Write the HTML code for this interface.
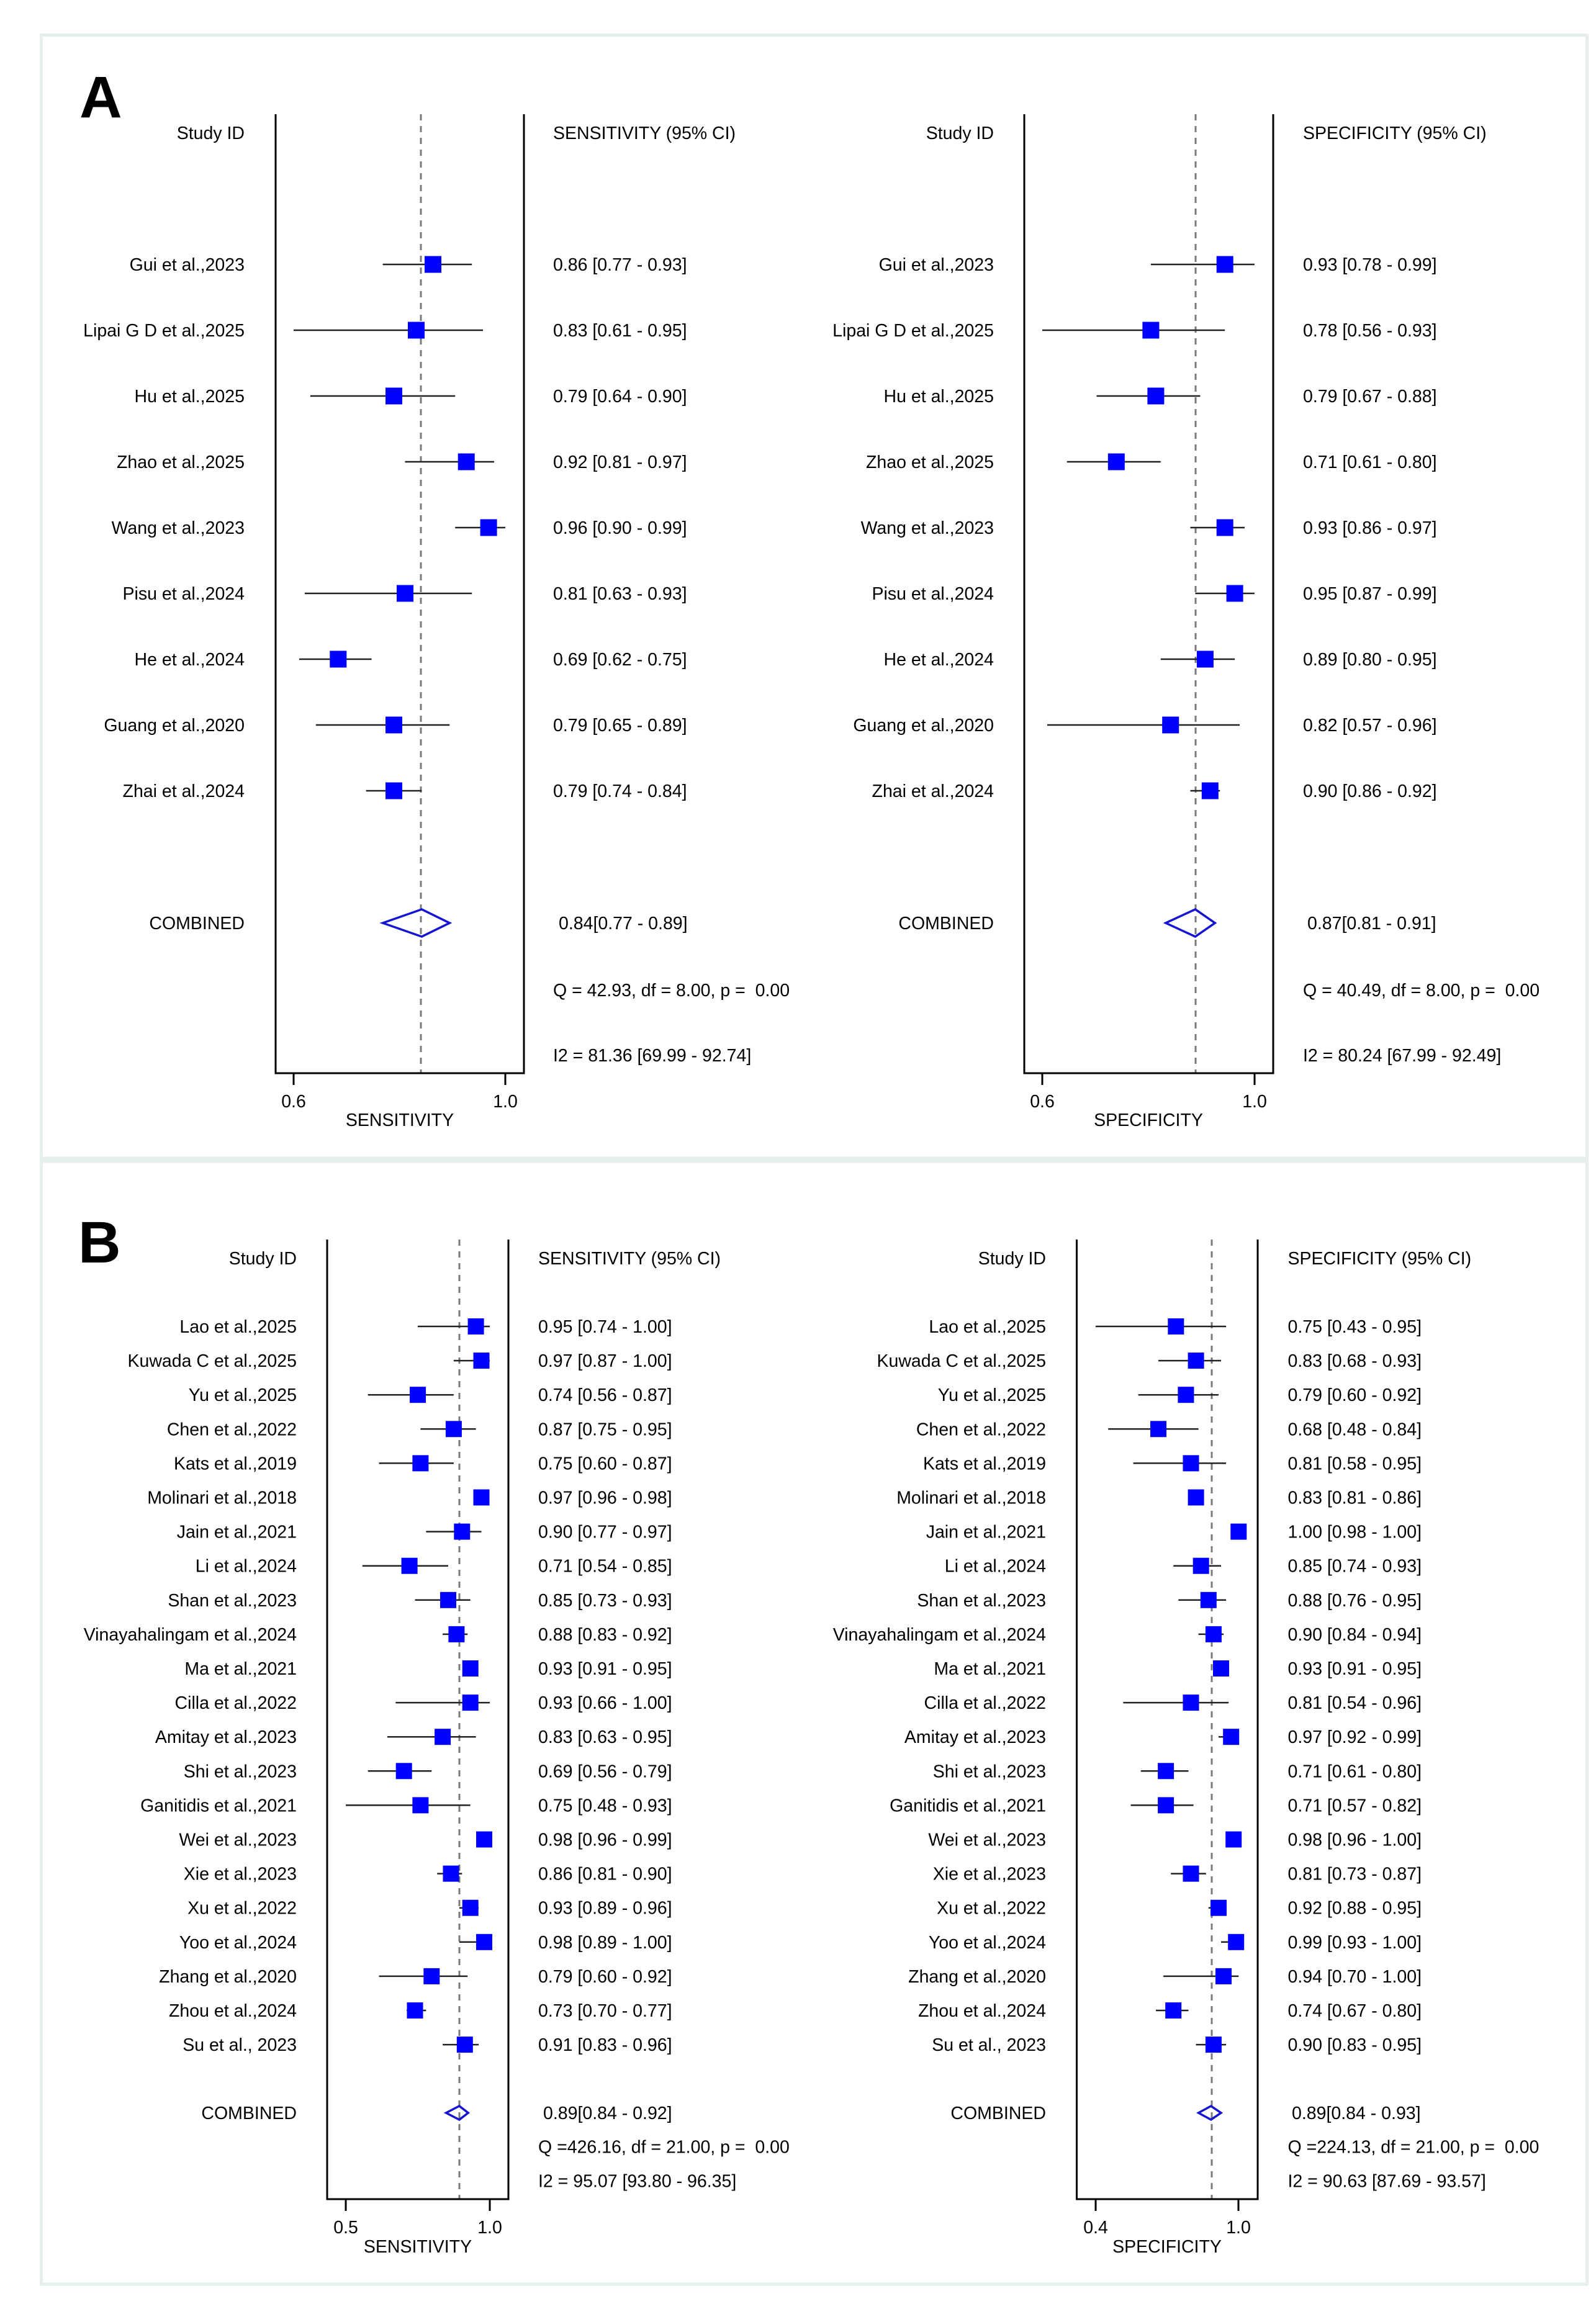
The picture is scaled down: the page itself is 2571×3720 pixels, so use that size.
<!DOCTYPE html>
<html><head><meta charset="utf-8"><style>
html,body{margin:0;padding:0;background:#fff;}
svg{display:block;}
text{font-family:"Liberation Sans",Arial,sans-serif;font-size:28.5px;fill:#000;white-space:pre;}
.lb{font-weight:bold;font-size:95px;fill:#000;}
</style></head><body>
<svg width="2571" height="3720" viewBox="0 0 2571 3720" xmlns="http://www.w3.org/2000/svg">
<rect x="0" y="0" width="2571" height="3720" fill="#fff"/>
<!-- panel borders -->
<rect x="66.5" y="56.5" width="2490" height="1809.5" fill="none" stroke="#e7eeee" stroke-width="5"/>
<rect x="66.5" y="1871" width="2490" height="1809" fill="none" stroke="#e7eeee" stroke-width="5"/>

<text class="lb" x="128" y="189">A</text>
<text class="lb" x="126" y="2034">B</text>

<!-- ================= PANEL A SENSITIVITY ================= -->
<g>
<line x1="678" y1="184" x2="678" y2="1729" stroke="#7a7a7a" stroke-width="3" stroke-dasharray="10 9"/>
<path d="M444 184 V1729 H844 V184" fill="none" stroke="#000" stroke-width="3"/>
<line x1="473" y1="1729" x2="473" y2="1748" stroke="#000" stroke-width="3"/>
<line x1="814" y1="1729" x2="814" y2="1748" stroke="#000" stroke-width="3"/>
<text x="473" y="1784" text-anchor="middle">0.6</text>
<text x="814" y="1784" text-anchor="middle">1.0</text>
<text x="644" y="1814" text-anchor="middle">SENSITIVITY</text>
<text x="394" y="224" text-anchor="end">Study ID</text>
<text x="891" y="224">SENSITIVITY (95% CI)</text>
<g stroke="#222" stroke-width="2.5">
<line x1="616.6" y1="426" x2="760.2" y2="426"/>
<line x1="473" y1="532" x2="778.1" y2="532"/>
<line x1="499.9" y1="638" x2="733.2" y2="638"/>
<line x1="652.5" y1="744" x2="796.1" y2="744"/>
<line x1="733.2" y1="850" x2="814" y2="850"/>
<line x1="490.9" y1="956" x2="760.2" y2="956"/>
<line x1="482" y1="1062" x2="598.6" y2="1062"/>
<line x1="508.9" y1="1168" x2="724.3" y2="1168"/>
<line x1="589.7" y1="1274" x2="679.4" y2="1274"/>
</g>
<g fill="#0000ff">
<rect x="684" y="412.5" width="27" height="27"/>
<rect x="657" y="518.5" width="27" height="27"/>
<rect x="621" y="624.5" width="27" height="27"/>
<rect x="737.7" y="730.5" width="27" height="27"/>
<rect x="773.6" y="836.5" width="27" height="27"/>
<rect x="639" y="942.5" width="27" height="27"/>
<rect x="531.3" y="1048.5" width="27" height="27"/>
<rect x="621" y="1154.5" width="27" height="27"/>
<rect x="621" y="1260.5" width="27" height="27"/>
</g>
<polygon points="616.6,1487 679.4,1465 724.3,1487 679.4,1509" fill="none" stroke="#1414d2" stroke-width="3.5"/>
<g text-anchor="end">
<text x="394" y="436">Gui et al.,2023</text>
<text x="394" y="542">Lipai G D et al.,2025</text>
<text x="394" y="648">Hu et al.,2025</text>
<text x="394" y="754">Zhao et al.,2025</text>
<text x="394" y="860">Wang et al.,2023</text>
<text x="394" y="966">Pisu et al.,2024</text>
<text x="394" y="1072">He et al.,2024</text>
<text x="394" y="1178">Guang et al.,2020</text>
<text x="394" y="1284">Zhai et al.,2024</text>
<text x="394" y="1497">COMBINED</text>
</g>
<text x="891" y="436">0.86 [0.77 - 0.93]</text>
<text x="891" y="542">0.83 [0.61 - 0.95]</text>
<text x="891" y="648">0.79 [0.64 - 0.90]</text>
<text x="891" y="754">0.92 [0.81 - 0.97]</text>
<text x="891" y="860">0.96 [0.90 - 0.99]</text>
<text x="891" y="966">0.81 [0.63 - 0.93]</text>
<text x="891" y="1072">0.69 [0.62 - 0.75]</text>
<text x="891" y="1178">0.79 [0.65 - 0.89]</text>
<text x="891" y="1284">0.79 [0.74 - 0.84]</text>
<text x="900" y="1497">0.84[0.77 - 0.89]</text>
<text x="891" y="1605">Q = 42.93, df = 8.00, p =  0.00</text>
<text x="891" y="1710">I2 = 81.36 [69.99 - 92.74]</text>
</g>

<!-- ================= PANEL A SPECIFICITY ================= -->
<g>
<line x1="1926" y1="184" x2="1926" y2="1729" stroke="#7a7a7a" stroke-width="3" stroke-dasharray="10 9"/>
<path d="M1650 184 V1729 H2051 V184" fill="none" stroke="#000" stroke-width="3"/>
<line x1="1679" y1="1729" x2="1679" y2="1748" stroke="#000" stroke-width="3"/>
<line x1="2021" y1="1729" x2="2021" y2="1748" stroke="#000" stroke-width="3"/>
<text x="1679" y="1784" text-anchor="middle">0.6</text>
<text x="2021" y="1784" text-anchor="middle">1.0</text>
<text x="1850" y="1814" text-anchor="middle">SPECIFICITY</text>
<text x="1601" y="224" text-anchor="end">Study ID</text>
<text x="2099" y="224">SPECIFICITY (95% CI)</text>
<g stroke="#222" stroke-width="2.5">
<line x1="1853.9" y1="426" x2="2020.9" y2="426"/>
<line x1="1679" y1="532" x2="1973.2" y2="532"/>
<line x1="1766.5" y1="638" x2="1933.4" y2="638"/>
<line x1="1718.8" y1="744" x2="1869.8" y2="744"/>
<line x1="1917.5" y1="850" x2="2005" y2="850"/>
<line x1="1925.5" y1="956" x2="2020.9" y2="956"/>
<line x1="1869.8" y1="1062" x2="1989.1" y2="1062"/>
<line x1="1687" y1="1168" x2="1997" y2="1168"/>
<line x1="1917.5" y1="1274" x2="1965.2" y2="1274"/>
</g>
<g fill="#0000ff">
<rect x="1959.7" y="412.5" width="27" height="27"/>
<rect x="1840.4" y="518.5" width="27" height="27"/>
<rect x="1848.4" y="624.5" width="27" height="27"/>
<rect x="1784.8" y="730.5" width="27" height="27"/>
<rect x="1959.7" y="836.5" width="27" height="27"/>
<rect x="1975.6" y="942.5" width="27" height="27"/>
<rect x="1927.9" y="1048.5" width="27" height="27"/>
<rect x="1872.2" y="1154.5" width="27" height="27"/>
<rect x="1935.8" y="1260.5" width="27" height="27"/>
</g>
<polygon points="1877.8,1487 1925.5,1465 1957.3,1487 1925.5,1509" fill="none" stroke="#1414d2" stroke-width="3.5"/>
<g text-anchor="end">
<text x="1601" y="436">Gui et al.,2023</text>
<text x="1601" y="542">Lipai G D et al.,2025</text>
<text x="1601" y="648">Hu et al.,2025</text>
<text x="1601" y="754">Zhao et al.,2025</text>
<text x="1601" y="860">Wang et al.,2023</text>
<text x="1601" y="966">Pisu et al.,2024</text>
<text x="1601" y="1072">He et al.,2024</text>
<text x="1601" y="1178">Guang et al.,2020</text>
<text x="1601" y="1284">Zhai et al.,2024</text>
<text x="1601" y="1497">COMBINED</text>
</g>
<text x="2099" y="436">0.93 [0.78 - 0.99]</text>
<text x="2099" y="542">0.78 [0.56 - 0.93]</text>
<text x="2099" y="648">0.79 [0.67 - 0.88]</text>
<text x="2099" y="754">0.71 [0.61 - 0.80]</text>
<text x="2099" y="860">0.93 [0.86 - 0.97]</text>
<text x="2099" y="966">0.95 [0.87 - 0.99]</text>
<text x="2099" y="1072">0.89 [0.80 - 0.95]</text>
<text x="2099" y="1178">0.82 [0.57 - 0.96]</text>
<text x="2099" y="1284">0.90 [0.86 - 0.92]</text>
<text x="2106" y="1497">0.87[0.81 - 0.91]</text>
<text x="2099" y="1605">Q = 40.49, df = 8.00, p =  0.00</text>
<text x="2099" y="1710">I2 = 80.24 [67.99 - 92.49]</text>
</g>

<!-- ================= PANEL B SENSITIVITY ================= -->
<g>
<line x1="740" y1="1997" x2="740" y2="3543" stroke="#7a7a7a" stroke-width="3" stroke-dasharray="10 9"/>
<path d="M527 1997 V3543 H819 V1997" fill="none" stroke="#000" stroke-width="3"/>
<line x1="557" y1="3543" x2="557" y2="3562" stroke="#000" stroke-width="3"/>
<line x1="789" y1="3543" x2="789" y2="3562" stroke="#000" stroke-width="3"/>
<text x="557" y="3598" text-anchor="middle">0.5</text>
<text x="789" y="3598" text-anchor="middle">1.0</text>
<text x="673" y="3629" text-anchor="middle">SENSITIVITY</text>
<text x="478" y="2037" text-anchor="end">Study ID</text>
<text x="867" y="2037">SENSITIVITY (95% CI)</text>
<g stroke="#222" stroke-width="2.5">
<line x1="673" y1="2137" x2="789" y2="2137"/>
<line x1="730.9" y1="2192.1" x2="789" y2="2192.1"/>
<line x1="592.7" y1="2247.2" x2="730.9" y2="2247.2"/>
<line x1="677.4" y1="2302.3" x2="766.6" y2="2302.3"/>
<line x1="610.5" y1="2357.4" x2="730.9" y2="2357.4"/>
<line x1="771.1" y1="2412.5" x2="780" y2="2412.5"/>
<line x1="686.3" y1="2467.6" x2="775.5" y2="2467.6"/>
<line x1="583.8" y1="2522.7" x2="722" y2="2522.7"/>
<line x1="668.5" y1="2577.8" x2="757.7" y2="2577.8"/>
<line x1="713.1" y1="2632.9" x2="753.2" y2="2632.9"/>
<line x1="748.8" y1="2688" x2="766.6" y2="2688"/>
<line x1="637.3" y1="2743.1" x2="789" y2="2743.1"/>
<line x1="623.9" y1="2798.2" x2="766.6" y2="2798.2"/>
<line x1="592.7" y1="2853.3" x2="695.3" y2="2853.3"/>
<line x1="557" y1="2908.4" x2="757.7" y2="2908.4"/>
<line x1="771.1" y1="2963.5" x2="784.5" y2="2963.5"/>
<line x1="704.2" y1="3018.6" x2="744.3" y2="3018.6"/>
<line x1="739.9" y1="3073.7" x2="771.1" y2="3073.7"/>
<line x1="739.9" y1="3128.8" x2="789" y2="3128.8"/>
<line x1="610.5" y1="3183.9" x2="753.2" y2="3183.9"/>
<line x1="655.1" y1="3239" x2="686.3" y2="3239"/>
<line x1="713.1" y1="3294.1" x2="771.1" y2="3294.1"/>
</g>
<g fill="#0000ff">
<rect x="753.6" y="2124" width="26" height="26"/>
<rect x="762.5" y="2179.1" width="26" height="26"/>
<rect x="660" y="2234.2" width="26" height="26"/>
<rect x="717.9" y="2289.3" width="26" height="26"/>
<rect x="664.4" y="2344.4" width="26" height="26"/>
<rect x="762.5" y="2399.5" width="26" height="26"/>
<rect x="731.3" y="2454.6" width="26" height="26"/>
<rect x="646.6" y="2509.7" width="26" height="26"/>
<rect x="709" y="2564.8" width="26" height="26"/>
<rect x="722.4" y="2619.9" width="26" height="26"/>
<rect x="744.7" y="2675" width="26" height="26"/>
<rect x="744.7" y="2730.1" width="26" height="26"/>
<rect x="700.1" y="2785.2" width="26" height="26"/>
<rect x="637.7" y="2840.3" width="26" height="26"/>
<rect x="664.4" y="2895.4" width="26" height="26"/>
<rect x="767" y="2950.5" width="26" height="26"/>
<rect x="713.5" y="3005.6" width="26" height="26"/>
<rect x="744.7" y="3060.7" width="26" height="26"/>
<rect x="767" y="3115.8" width="26" height="26"/>
<rect x="682.3" y="3170.9" width="26" height="26"/>
<rect x="655.5" y="3226" width="26" height="26"/>
<rect x="735.8" y="3281.1" width="26" height="26"/>
</g>
<polygon points="718.6,3404 739.9,3393 754.2,3404 739.9,3415" fill="none" stroke="#1414d2" stroke-width="3.5"/>
<g text-anchor="end">
<text x="478" y="2147">Lao et al.,2025</text>
<text x="478" y="2202.1">Kuwada C et al.,2025</text>
<text x="478" y="2257.2">Yu et al.,2025</text>
<text x="478" y="2312.3">Chen et al.,2022</text>
<text x="478" y="2367.4">Kats et al.,2019</text>
<text x="478" y="2422.5">Molinari et al.,2018</text>
<text x="478" y="2477.6">Jain et al.,2021</text>
<text x="478" y="2532.7">Li et al.,2024</text>
<text x="478" y="2587.8">Shan et al.,2023</text>
<text x="478" y="2642.9">Vinayahalingam et al.,2024</text>
<text x="478" y="2698">Ma et al.,2021</text>
<text x="478" y="2753.1">Cilla et al.,2022</text>
<text x="478" y="2808.2">Amitay et al.,2023</text>
<text x="478" y="2863.3">Shi et al.,2023</text>
<text x="478" y="2918.4">Ganitidis et al.,2021</text>
<text x="478" y="2973.5">Wei et al.,2023</text>
<text x="478" y="3028.6">Xie et al.,2023</text>
<text x="478" y="3083.7">Xu et al.,2022</text>
<text x="478" y="3138.8">Yoo et al.,2024</text>
<text x="478" y="3193.9">Zhang et al.,2020</text>
<text x="478" y="3249">Zhou et al.,2024</text>
<text x="478" y="3304.1">Su et al., 2023</text>
<text x="478" y="3414">COMBINED</text>
</g>
<text x="867" y="2147">0.95 [0.74 - 1.00]</text>
<text x="867" y="2202.1">0.97 [0.87 - 1.00]</text>
<text x="867" y="2257.2">0.74 [0.56 - 0.87]</text>
<text x="867" y="2312.3">0.87 [0.75 - 0.95]</text>
<text x="867" y="2367.4">0.75 [0.60 - 0.87]</text>
<text x="867" y="2422.5">0.97 [0.96 - 0.98]</text>
<text x="867" y="2477.6">0.90 [0.77 - 0.97]</text>
<text x="867" y="2532.7">0.71 [0.54 - 0.85]</text>
<text x="867" y="2587.8">0.85 [0.73 - 0.93]</text>
<text x="867" y="2642.9">0.88 [0.83 - 0.92]</text>
<text x="867" y="2698">0.93 [0.91 - 0.95]</text>
<text x="867" y="2753.1">0.93 [0.66 - 1.00]</text>
<text x="867" y="2808.2">0.83 [0.63 - 0.95]</text>
<text x="867" y="2863.3">0.69 [0.56 - 0.79]</text>
<text x="867" y="2918.4">0.75 [0.48 - 0.93]</text>
<text x="867" y="2973.5">0.98 [0.96 - 0.99]</text>
<text x="867" y="3028.6">0.86 [0.81 - 0.90]</text>
<text x="867" y="3083.7">0.93 [0.89 - 0.96]</text>
<text x="867" y="3138.8">0.98 [0.89 - 1.00]</text>
<text x="867" y="3193.9">0.79 [0.60 - 0.92]</text>
<text x="867" y="3249">0.73 [0.70 - 0.77]</text>
<text x="867" y="3304.1">0.91 [0.83 - 0.96]</text>
<text x="875" y="3414">0.89[0.84 - 0.92]</text>
<text x="867" y="3468.6">Q =426.16, df = 21.00, p =  0.00</text>
<text x="867" y="3523.7">I2 = 95.07 [93.80 - 96.35]</text>
</g>

<!-- ================= PANEL B SPECIFICITY ================= -->
<g>
<line x1="1952" y1="1997" x2="1952" y2="3543" stroke="#7a7a7a" stroke-width="3" stroke-dasharray="10 9"/>
<path d="M1734.5 1997 V3543 H2026 V1997" fill="none" stroke="#000" stroke-width="3"/>
<line x1="1765" y1="3543" x2="1765" y2="3562" stroke="#000" stroke-width="3"/>
<line x1="1995" y1="3543" x2="1995" y2="3562" stroke="#000" stroke-width="3"/>
<text x="1765" y="3598" text-anchor="middle">0.4</text>
<text x="1995" y="3598" text-anchor="middle">1.0</text>
<text x="1880" y="3629" text-anchor="middle">SPECIFICITY</text>
<text x="1685" y="2037" text-anchor="end">Study ID</text>
<text x="2074.5" y="2037">SPECIFICITY (95% CI)</text>
<g stroke="#222" stroke-width="2.5">
<line x1="1765" y1="2137" x2="1975.1" y2="2137"/>
<line x1="1866" y1="2192.1" x2="1967" y2="2192.1"/>
<line x1="1833.7" y1="2247.2" x2="1963" y2="2247.2"/>
<line x1="1785.2" y1="2302.3" x2="1930.6" y2="2302.3"/>
<line x1="1825.6" y1="2357.4" x2="1975.1" y2="2357.4"/>
<line x1="1918.5" y1="2412.5" x2="1938.7" y2="2412.5"/>
<line x1="1987.2" y1="2467.6" x2="1995.3" y2="2467.6"/>
<line x1="1890.2" y1="2522.7" x2="1967" y2="2522.7"/>
<line x1="1898.3" y1="2577.8" x2="1975.1" y2="2577.8"/>
<line x1="1930.6" y1="2632.9" x2="1971" y2="2632.9"/>
<line x1="1958.9" y1="2688" x2="1975.1" y2="2688"/>
<line x1="1809.4" y1="2743.1" x2="1979.1" y2="2743.1"/>
<line x1="1963" y1="2798.2" x2="1991.2" y2="2798.2"/>
<line x1="1837.7" y1="2853.3" x2="1914.5" y2="2853.3"/>
<line x1="1821.6" y1="2908.4" x2="1922.6" y2="2908.4"/>
<line x1="1979.1" y1="2963.5" x2="1995.3" y2="2963.5"/>
<line x1="1886.2" y1="3018.6" x2="1942.8" y2="3018.6"/>
<line x1="1946.8" y1="3073.7" x2="1975.1" y2="3073.7"/>
<line x1="1967" y1="3128.8" x2="1995.3" y2="3128.8"/>
<line x1="1874.1" y1="3183.9" x2="1995.3" y2="3183.9"/>
<line x1="1862" y1="3239" x2="1914.5" y2="3239"/>
<line x1="1926.6" y1="3294.1" x2="1975.1" y2="3294.1"/>
</g>
<g fill="#0000ff">
<rect x="1881.3" y="2124" width="26" height="26"/>
<rect x="1913.6" y="2179.1" width="26" height="26"/>
<rect x="1897.4" y="2234.2" width="26" height="26"/>
<rect x="1853" y="2289.3" width="26" height="26"/>
<rect x="1905.5" y="2344.4" width="26" height="26"/>
<rect x="1913.6" y="2399.5" width="26" height="26"/>
<rect x="1982.3" y="2454.6" width="26" height="26"/>
<rect x="1921.7" y="2509.7" width="26" height="26"/>
<rect x="1933.8" y="2564.8" width="26" height="26"/>
<rect x="1941.9" y="2619.9" width="26" height="26"/>
<rect x="1954" y="2675" width="26" height="26"/>
<rect x="1905.5" y="2730.1" width="26" height="26"/>
<rect x="1970.2" y="2785.2" width="26" height="26"/>
<rect x="1865.1" y="2840.3" width="26" height="26"/>
<rect x="1865.1" y="2895.4" width="26" height="26"/>
<rect x="1974.2" y="2950.5" width="26" height="26"/>
<rect x="1905.5" y="3005.6" width="26" height="26"/>
<rect x="1950" y="3060.7" width="26" height="26"/>
<rect x="1978.2" y="3115.8" width="26" height="26"/>
<rect x="1958" y="3170.9" width="26" height="26"/>
<rect x="1877.2" y="3226" width="26" height="26"/>
<rect x="1941.9" y="3281.1" width="26" height="26"/>
</g>
<polygon points="1930.6,3404 1950.8,3393 1967,3404 1950.8,3415" fill="none" stroke="#1414d2" stroke-width="3.5"/>
<g text-anchor="end">
<text x="1685" y="2147">Lao et al.,2025</text>
<text x="1685" y="2202.1">Kuwada C et al.,2025</text>
<text x="1685" y="2257.2">Yu et al.,2025</text>
<text x="1685" y="2312.3">Chen et al.,2022</text>
<text x="1685" y="2367.4">Kats et al.,2019</text>
<text x="1685" y="2422.5">Molinari et al.,2018</text>
<text x="1685" y="2477.6">Jain et al.,2021</text>
<text x="1685" y="2532.7">Li et al.,2024</text>
<text x="1685" y="2587.8">Shan et al.,2023</text>
<text x="1685" y="2642.9">Vinayahalingam et al.,2024</text>
<text x="1685" y="2698">Ma et al.,2021</text>
<text x="1685" y="2753.1">Cilla et al.,2022</text>
<text x="1685" y="2808.2">Amitay et al.,2023</text>
<text x="1685" y="2863.3">Shi et al.,2023</text>
<text x="1685" y="2918.4">Ganitidis et al.,2021</text>
<text x="1685" y="2973.5">Wei et al.,2023</text>
<text x="1685" y="3028.6">Xie et al.,2023</text>
<text x="1685" y="3083.7">Xu et al.,2022</text>
<text x="1685" y="3138.8">Yoo et al.,2024</text>
<text x="1685" y="3193.9">Zhang et al.,2020</text>
<text x="1685" y="3249">Zhou et al.,2024</text>
<text x="1685" y="3304.1">Su et al., 2023</text>
<text x="1685" y="3414">COMBINED</text>
</g>
<text x="2074.5" y="2147">0.75 [0.43 - 0.95]</text>
<text x="2074.5" y="2202.1">0.83 [0.68 - 0.93]</text>
<text x="2074.5" y="2257.2">0.79 [0.60 - 0.92]</text>
<text x="2074.5" y="2312.3">0.68 [0.48 - 0.84]</text>
<text x="2074.5" y="2367.4">0.81 [0.58 - 0.95]</text>
<text x="2074.5" y="2422.5">0.83 [0.81 - 0.86]</text>
<text x="2074.5" y="2477.6">1.00 [0.98 - 1.00]</text>
<text x="2074.5" y="2532.7">0.85 [0.74 - 0.93]</text>
<text x="2074.5" y="2587.8">0.88 [0.76 - 0.95]</text>
<text x="2074.5" y="2642.9">0.90 [0.84 - 0.94]</text>
<text x="2074.5" y="2698">0.93 [0.91 - 0.95]</text>
<text x="2074.5" y="2753.1">0.81 [0.54 - 0.96]</text>
<text x="2074.5" y="2808.2">0.97 [0.92 - 0.99]</text>
<text x="2074.5" y="2863.3">0.71 [0.61 - 0.80]</text>
<text x="2074.5" y="2918.4">0.71 [0.57 - 0.82]</text>
<text x="2074.5" y="2973.5">0.98 [0.96 - 1.00]</text>
<text x="2074.5" y="3028.6">0.81 [0.73 - 0.87]</text>
<text x="2074.5" y="3083.7">0.92 [0.88 - 0.95]</text>
<text x="2074.5" y="3138.8">0.99 [0.93 - 1.00]</text>
<text x="2074.5" y="3193.9">0.94 [0.70 - 1.00]</text>
<text x="2074.5" y="3249">0.74 [0.67 - 0.80]</text>
<text x="2074.5" y="3304.1">0.90 [0.83 - 0.95]</text>
<text x="2081" y="3414">0.89[0.84 - 0.93]</text>
<text x="2074.5" y="3468.6">Q =224.13, df = 21.00, p =  0.00</text>
<text x="2074.5" y="3523.7">I2 = 90.63 [87.69 - 93.57]</text>
</g>
</svg>
</body></html>
